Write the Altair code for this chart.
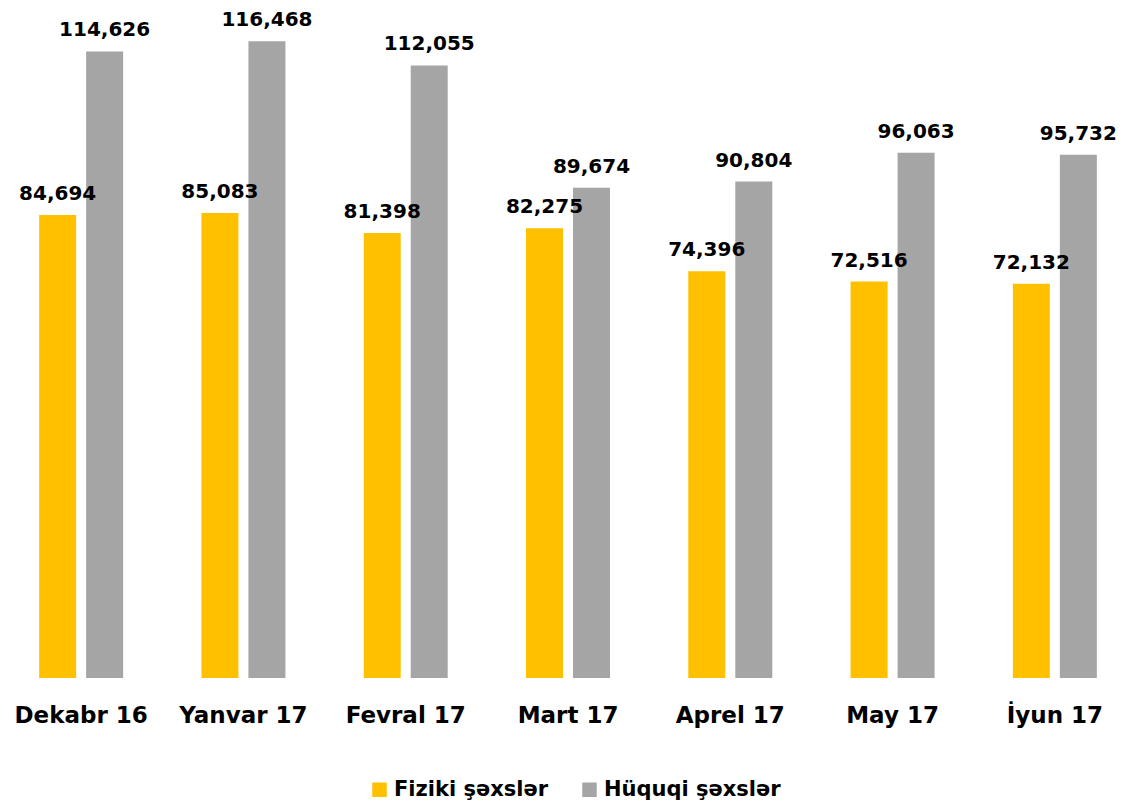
import altair as alt
import pandas as pd

months = ["Dekabr 16", "Yanvar 17", "Fevral 17", "Mart 17", "Aprel 17", "May 17", "İyun 17"]
fiziki = [84694, 85083, 81398, 82275, 74396, 72516, 72132]
huquqi = [114626, 116468, 112055, 89674, 90804, 96063, 95732]
series = ["Fiziki şəxslər", "Hüquqi şəxslər"]
colors = ["#FFC000", "#A5A5A5"]

rows = []
for m, f, h in zip(months, fiziki, huquqi):
    rows.append({"month": m, "series": series[0], "value": f})
    rows.append({"month": m, "series": series[1], "value": h})
df = pd.DataFrame(rows)

FONT = "DejaVu Sans"

x = alt.X("month:N", sort=months, title=None,
          scale=alt.Scale(paddingInner=0, paddingOuter=0),
          axis=alt.Axis(labelAngle=0, labelFont=FONT, labelFontSize=23, labelFontWeight="bold",
                        labelColor="#000000", ticks=False, domain=False, grid=False,
                        labelPadding=26))
xo = alt.XOffset("series:N", sort=series,
                 scale=alt.Scale(paddingInner=0.213, paddingOuter=0.833))
y = alt.Y("value:Q", scale=alt.Scale(domain=[0, 120000], nice=False), axis=None)

bars = alt.Chart(df).mark_bar().encode(
    x=x, xOffset=xo, y=y,
    color=alt.Color("series:N", sort=series,
                    scale=alt.Scale(domain=series, range=colors),
                    legend=alt.Legend(title=None, orient="none", legendX=369, legendY=757,
                                      direction="horizontal", symbolType="square",
                                      symbolSize=210, symbolStrokeWidth=0,
                                      labelFont=FONT, labelFontSize=21, labelFontWeight="bold",
                                      labelColor="#000000", columnPadding=30, labelOffset=4,
                                      labelLimit=400)),
)

labels = alt.Chart(df).mark_text(
    font=FONT, fontSize=20, fontWeight="bold", color="#000000",
    baseline="alphabetic", dy=-15
).encode(
    x=x, xOffset=xo, y=y, text=alt.Text("value:Q", format=",")
)

chart = alt.layer(bars, labels).properties(
    width=1136, height=656,
    padding={"left": -8, "right": -19, "top": 14, "bottom": 124},
    autosize=alt.AutoSizeParams(type="none"),
    background="white",
).configure_view(stroke=None, strokeWidth=0)

chart.save("out.html", embed_options={"renderer": "svg", "actions": False})
